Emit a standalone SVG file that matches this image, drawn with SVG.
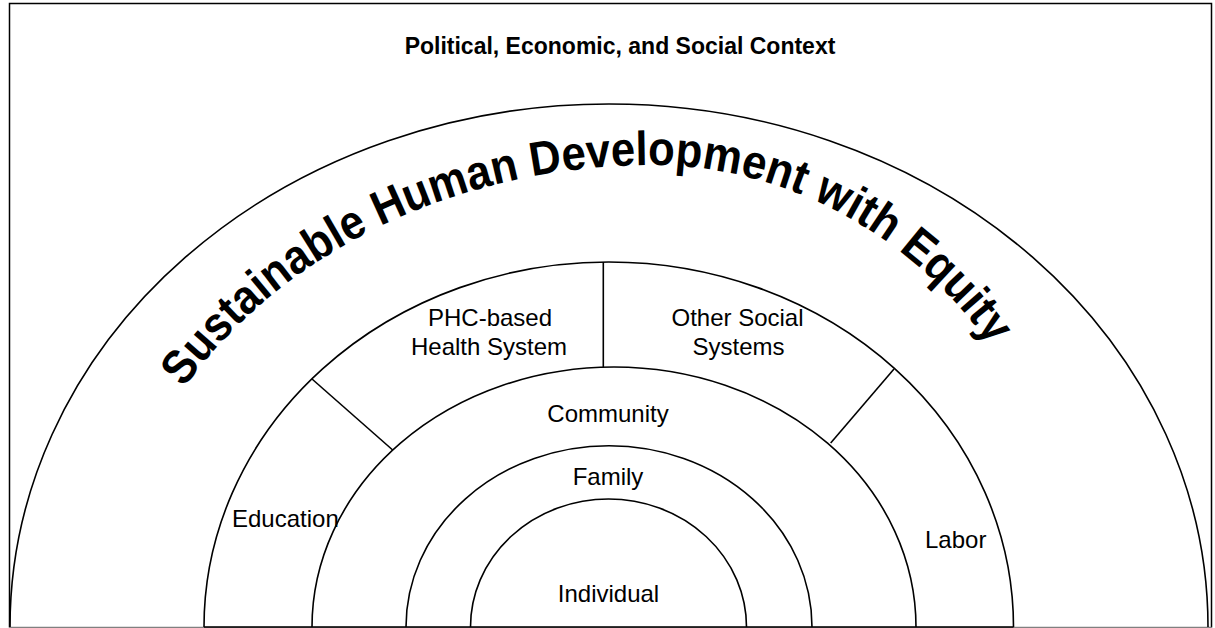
<svg xmlns="http://www.w3.org/2000/svg" width="1215" height="628" viewBox="0 0 1215 628">
<style>
.arc{fill:none;stroke:#000;stroke-width:1.6}
.div{fill:none;stroke:#000;stroke-width:1.6}
.lbl{font-family:"Liberation Sans",Arial,sans-serif;font-size:24px;fill:#000}
.mid{text-anchor:middle}
.ttl{font-family:"Liberation Sans",Arial,sans-serif;font-size:23px;font-weight:bold;fill:#000;text-anchor:middle}
.big{font-family:"Liberation Sans",Arial,sans-serif;font-size:48px;font-weight:bold;fill:#000}
</style>
<defs>
<path id="textArc" d="M184,388 A548,462 0 0 1 655,165 A429,462 0 0 1 1000,360"/>
</defs>
<rect x="0" y="0" width="1215" height="628" fill="#fff"/>
<g id="frame">
<path d="M9.5,627.5 V3.5 H1211.5 V627.5" fill="none" stroke="#000" stroke-width="1.5"/>
<line x1="9.5" y1="627.5" x2="1211.5" y2="627.5" stroke="#808080" stroke-width="1.5"/>
<text class="ttl" x="620" y="54">Political, Economic, and Social Context</text>
</g>
<g id="outer-ring">
<path class="arc" d="M10,627 A599,523 0 0 1 1208,627"/>
<text class="big"><textPath href="#textArc" textLength="936" lengthAdjust="spacingAndGlyphs">Sustainable Human Development with Equity</textPath></text>
</g>
<g id="systems-ring">
<path class="arc" d="M204,627 A404.75,365 0 0 1 1013.5,627"/>
<line x1="204" y1="627" x2="1013.5" y2="627" stroke="#000" stroke-width="1.5"/>
</g>
<g id="node-education"><text class="lbl" x="232" y="527">Education</text></g>
<g id="node-phc"><text class="lbl mid" x="490" y="326">PHC-based</text><text class="lbl mid" x="489" y="355">Health System</text></g>
<g id="node-other"><text class="lbl mid" x="737.5" y="326">Other Social</text><text class="lbl mid" x="738.5" y="355">Systems</text></g>
<g id="node-labor"><text class="lbl" x="925" y="548">Labor</text></g>
<g id="node-community">
<path class="arc" d="M312,627 A302,260 0 0 1 916,627"/>
<text class="lbl mid" x="608" y="422">Community</text>
</g>
<g id="node-family">
<path class="arc" d="M406,627 A203,181.3 0 0 1 812,627"/>
<text class="lbl mid" x="608" y="485">Family</text>
</g>
<g id="node-individual">
<path class="arc" d="M470.5,627 A138,128 0 0 1 746.5,627"/>
<text class="lbl mid" x="608.5" y="602">Individual</text>
</g>
<g id="connectors">
<line class="div" x1="603.3" y1="262" x2="603.3" y2="367.5"/>
<line class="div" x1="312" y1="379" x2="392.7" y2="450"/>
<line class="div" x1="894" y1="369" x2="830.7" y2="443"/>
</g>
</svg>
